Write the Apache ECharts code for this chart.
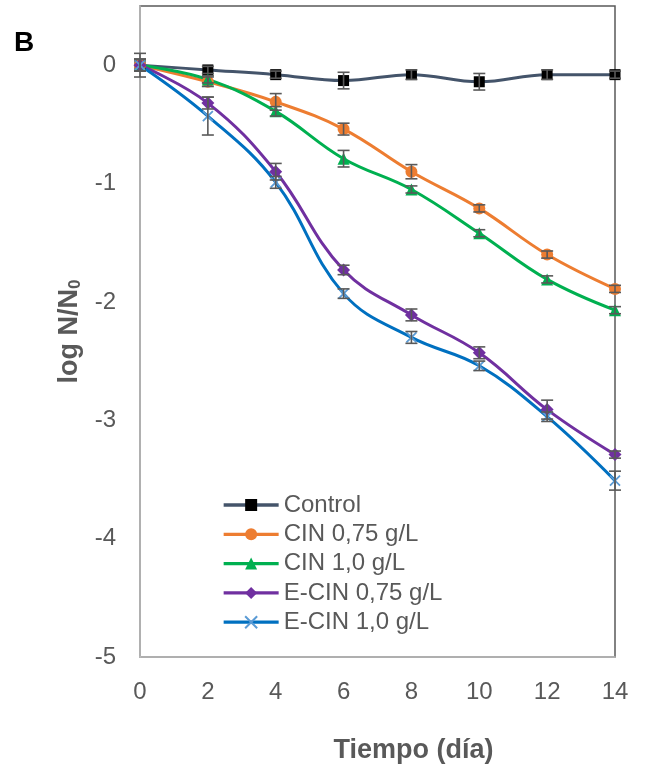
<!DOCTYPE html>
<html>
<head>
<meta charset="utf-8">
<script src="https://cdn.jsdelivr.net/npm/echarts@6/dist/echarts.min.js"></script>
<style>
  html, body { margin: 0; padding: 0; background: #fff; }
  #chart { width: 647px; height: 769px; }
</style>
</head>
<body>
<div id="chart"></div>
<script>
// Storage days
const days = [0, 2, 4, 6, 8, 10, 12, 14];

// log N/N0 per treatment
const control   = [0, -0.04, -0.08, -0.13, -0.08, -0.14, -0.08, -0.08];
const cin075    = [0, -0.14, -0.31, -0.54, -0.90, -1.21, -1.60, -1.89];
const cin10     = [0, -0.12, -0.39, -0.79, -1.05, -1.42, -1.81, -2.07];
const ecin075   = [0, -0.32, -0.90, -1.73, -2.11, -2.43, -2.91, -3.29];
const ecin10    = [0, -0.43, -0.99, -1.93, -2.30, -2.54, -2.97, -3.51];

// Standard deviations
const controlErr = [0.10, 0.03, 0.03, 0.07, 0.04, 0.07, 0.04, 0.03];
const cin075Err  = [0.05, 0.04, 0.07, 0.05, 0.06, 0.03, 0.03, 0.03];
const cin10Err   = [0.05, 0.03, 0.04, 0.07, 0.03, 0.03, 0.03, 0.03];
const ecin075Err = [0.05, 0.05, 0.07, 0.04, 0.05, 0.05, 0.08, 0.03];
const ecin10Err  = [0.05, 0.16, 0.05, 0.04, 0.05, 0.04, 0.04, 0.08];

const seriesNames = ['Control', 'CIN 0,75 g/L', 'CIN 1,0 g/L', 'E-CIN 0,75 g/L', 'E-CIN 1,0 g/L'];
const yTicks = [-5, -4, -3, -2, -1, 0];

const FONT = 'Liberation Sans, Arial, sans-serif';
const TXT = '#595959';

const defs = [
  { name: seriesNames[0], vals: control, err: controlErr, line: '#44546A', mark: '#000000', symbol: 'rect', size: 11 },
  { name: seriesNames[1], vals: cin075,  err: cin075Err,  line: '#ED7D31', mark: '#ED7D31', symbol: 'circle', size: 12 },
  { name: seriesNames[2], vals: cin10,   err: cin10Err,   line: '#00B050', mark: '#00B050', symbol: 'triangle', size: 12 },
  { name: seriesNames[3], vals: ecin075, err: ecin075Err, line: '#7030A0', mark: '#7030A0', symbol: 'diamond', size: 13 },
  { name: seriesNames[4], vals: ecin10,  err: ecin10Err,  line: '#0070C0', mark: '#5B9BD5', symbol: 'path://M0,0L10,10M10,0L0,10', size: 10, cross: true }
];

function errorBars(d) {
  return {
    type: 'custom',
    name: d.name + ' err',
    z: 3,
    silent: true,
    data: days.map((x, i) => [x, d.vals[i] - d.err[i], d.vals[i] + d.err[i]]),
    renderItem: function (params, api) {
      const lo = api.coord([api.value(0), api.value(1)]);
      const hi = api.coord([api.value(0), api.value(2)]);
      const cap = 6;
      const style = { stroke: '#595959', lineWidth: 1.6, fill: null };
      return {
        type: 'group',
        children: [
          { type: 'line', shape: { x1: lo[0], y1: lo[1], x2: hi[0], y2: hi[1] }, style },
          { type: 'line', shape: { x1: lo[0] - cap, y1: lo[1], x2: lo[0] + cap, y2: lo[1] }, style },
          { type: 'line', shape: { x1: hi[0] - cap, y1: hi[1], x2: hi[0] + cap, y2: hi[1] }, style }
        ]
      };
    }
  };
}

const lineSeries = defs.map(d => ({
  type: 'line',
  name: d.name,
  data: days.map((x, i) => [x, d.vals[i]]),
  smooth: 0.4,
  symbol: d.symbol,
  symbolSize: d.size,
  showAllSymbol: true,
  z: 2,
  color: d.line,
  lineStyle: { color: d.line, width: 3 },
  itemStyle: d.cross
    ? { color: d.mark, borderColor: d.mark, borderWidth: 1.8 }
    : { color: d.mark, borderWidth: 0 },
  emphasis: { disabled: true }
}));

const chart = echarts.init(document.getElementById('chart'), null, { renderer: 'canvas' });

chart.setOption({
  animation: false,
  backgroundColor: '#ffffff',
  textStyle: { fontFamily: FONT },
  grid: {
    left: 140, right: 32, top: 6, bottom: 111,
    show: true, borderColor: '#595959', borderWidth: 1.5, backgroundColor: 'transparent'
  },
  graphic: [{
    type: 'text', left: 14, top: 29,
    style: { text: 'B', font: 'bold 28px ' + FONT, fill: '#000000' }
  }],
  legend: {
    orient: 'vertical',
    left: 217, top: 488,
    itemWidth: 55, itemHeight: 15,
    itemGap: 5.3,
    data: seriesNames,
    lineStyle: { width: 3.3 },
    textStyle: { fontFamily: FONT, fontSize: 24, color: TXT },
    selectedMode: false
  },
  xAxis: {
    type: 'value',
    min: 0, max: 14, interval: 2,
    axisLine: { show: true, onZero: false, lineStyle: { color: '#BFBFBF', width: 1.5 } },
    axisTick: { show: false },
    splitLine: { show: false },
    axisLabel: { fontFamily: FONT, fontSize: 24, color: TXT, margin: 23 },
    name: 'Tiempo (día)',
    nameLocation: 'middle',
    nameGap: 80,
    nameTextStyle: { fontFamily: FONT, fontSize: 27, fontWeight: 'bold', color: TXT, padding: [0, 0, 0, 72] }
  },
  yAxis: {
    type: 'value',
    min: -5, max: 0.5, interval: 1,
    axisLine: { show: true, onZero: false, lineStyle: { color: '#BFBFBF', width: 1.5 } },
    axisTick: { show: false },
    splitLine: { show: false },
    axisLabel: {
      fontFamily: FONT, fontSize: 24, color: TXT, margin: 24,
      formatter: v => (yTicks.indexOf(v) >= 0 ? String(v) : '')
    },
    name: '{a|log N/N}{b|0}',
    nameLocation: 'middle',
    nameGap: 56,
    nameRotate: 90,
    nameTextStyle: {
      rich: {
        a: { fontFamily: FONT, fontSize: 27, fontWeight: 'bold', color: TXT },
        b: { fontFamily: FONT, fontSize: 17, fontWeight: 'bold', color: TXT, verticalAlign: 'bottom', padding: [12, 0, 0, 0] }
      }
    }
  },
  series: [...defs.map(errorBars), ...lineSeries]
});
</script>
</body>
</html>
